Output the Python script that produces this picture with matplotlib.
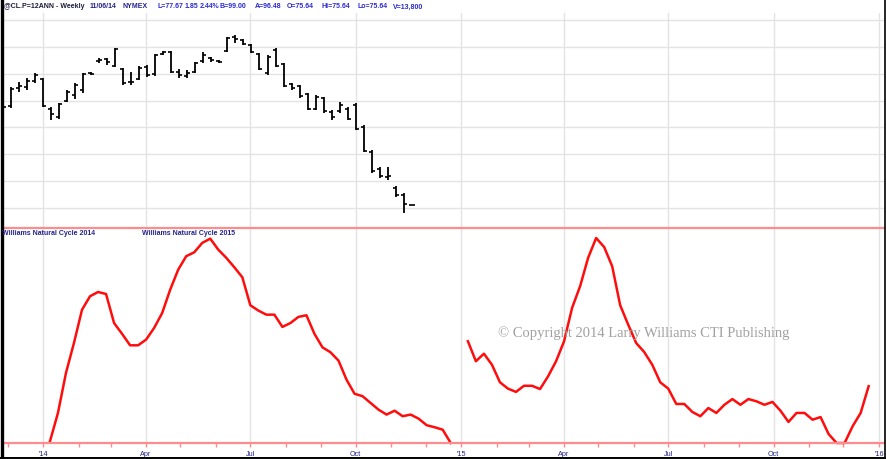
import matplotlib
matplotlib.use("Agg")
import matplotlib.pyplot as plt
import matplotlib.dates as mdates
import pandas as pd
import numpy as np

# ---------------- data ----------------
bar_start = "2013-11-27"
bar_high = [94.2, 97.5, 98.5, 99.2, 100.1, 99.2, 93.8, 94.5, 97.0, 98.3, 100.1, 100.3, 102.9,
            102.9, 104.8, 101.1, 100.3, 101.4, 101.6, 103.6, 104.2, 104.2, 100.9, 100.7, 102.2,
            104.0, 103.1, 102.5, 106.8, 107.2, 106.5, 105.5, 103.9, 103.5, 104.8, 102.0, 98.3,
            97.9, 96.4, 96.0, 95.7, 93.2, 94.7, 93.8, 94.5, 90.4, 85.8, 82.6, 82.6, 79.1, 77.8, 75.64]
bar_low = [92.3, 93.6, 96.6, 97.0, 98.3, 93.8, 91.4, 91.6, 94.7, 95.3, 96.4, 99.8, 102.0,
           101.6, 101.2, 97.9, 97.9, 98.8, 99.4, 99.5, 103.5, 100.1, 99.2, 99.2, 100.1,
           102.0, 102.2, 102.0, 104.0, 105.7, 105.3, 103.9, 100.7, 99.8, 101.2, 97.5, 97.0,
           95.5, 93.2, 93.2, 92.7, 91.4, 92.7, 91.4, 89.5, 85.4, 81.5, 80.6, 80.2, 77.0, 74.1, 75.64]
bar_open = [92.6, 93.9, 97.3, 97.6, 98.6, 99.0, 93.5, 92.0, 95.0, 96.0, 97.0, 100.1, 102.3,
            102.7, 101.5, 100.8, 98.5, 99.0, 101.2, 99.9, 103.6, 104.0, 100.3, 99.6, 100.3,
            102.3, 102.9, 102.3, 104.2, 106.8, 106.2, 105.3, 103.7, 100.2, 104.5, 101.8, 98.1,
            97.7, 96.2, 93.5, 95.4, 92.8, 93.0, 93.5, 94.2, 90.1, 85.5, 82.3, 80.8, 78.8, 77.4, 75.64]
bar_close = [93.8, 97.2, 97.8, 98.6, 99.8, 94.0, 92.5, 94.3, 96.6, 97.9, 100.0, 100.0, 102.6,
             102.1, 104.6, 98.3, 98.4, 101.0, 99.8, 103.4, 104.0, 100.4, 99.8, 100.2, 101.9,
             103.5, 102.5, 102.1, 106.6, 106.4, 105.6, 104.1, 100.9, 103.2, 101.4, 97.7, 97.3,
             95.8, 93.5, 95.7, 93.0, 91.9, 94.2, 91.6, 89.8, 85.7, 81.8, 80.9, 81.0, 77.5, 75.7, 75.64]

cycle14_start = "2014-01-07"
cycle14 = [0.8, 14.7, 34.3, 49.0, 65.2, 71.8, 73.9, 72.9, 58.7, 53.4, 47.8, 47.8, 50.6, 56.3,
           63.6, 75.0, 84.8, 91.4, 93.3, 97.9, 100.0, 94.6, 90.6, 86.0, 81.1, 67.4, 64.8, 62.8,
           62.8, 56.8, 58.7, 61.7, 62.5, 53.4, 46.8, 44.4, 40.3, 31.0, 24.1, 22.9, 19.6, 16.3,
           13.9, 15.8, 13.1, 13.9, 11.9, 8.7, 7.7, 6.5, 0.0]
cycle15_start = "2015-01-07"
cycle15 = [49.8, 40.0, 43.7, 38.3, 29.7, 26.6, 25.0, 28.0, 28.0, 26.4, 32.6, 40.0, 49.8, 66.1,
           76.7, 90.6, 100.3, 95.9, 86.5, 67.4, 57.9, 48.9, 44.5, 38.3, 29.7, 26.6, 19.1, 19.1,
           15.2, 13.1, 17.1, 14.7, 18.7, 21.5, 18.7, 21.5, 20.4, 18.7, 20.1, 15.8, 10.3, 14.7,
           14.7, 11.4, 12.7, 4.4, 0.0, 0.0, 8.2, 14.7, 27.8]

tick_dates = ["2014-01-01", "2014-04-01", "2014-07-01", "2014-10-01", "2015-01-01",
              "2015-04-01", "2015-07-01", "2015-10-01", "2016-01-01"]
tick_labels = ["'14", "Apr", "Jul", "Oct", "'15", "Apr", "Jul", "Oct", "'16"]
price_grid = [75, 80, 85, 90, 95, 100, 105, 110]

title_tokens = ["@CL.P=12ANN - Weekly", "11/06/14", "NYMEX", "L=77.67", "1.85", "2.44%",
                "B=99.00", "A=96.48", "O=75.64", "Hi=75.64", "Lo=75.64", "V=13,800"]
title_px = [4, 90, 123, 157, 185, 200, 220, 255, 287, 322, 357, 393]
legend_labels = ["Williams Natural Cycle 2014", "Williams Natural Cycle 2015"]

# ---------------- figure ----------------
W, H = 886, 459
fig = plt.figure(figsize=(W / 100, H / 100), dpi=100)
fig.patch.set_facecolor("white")

def fx(px):
    return px / W

def fy(py):
    return 1 - py / H

left, right = 3, 884
ax1 = fig.add_axes([fx(left), fy(228), fx(right - left), (228 - 13) / H])
ax2 = fig.add_axes([fx(left), fy(443), fx(right - left), (443 - 228) / H])
ax2.patch.set_alpha(0)

bar_dates = pd.date_range(bar_start, periods=len(bar_high), freq="7D")
d14 = pd.date_range(cycle14_start, periods=len(cycle14), freq="7D")
d15 = pd.date_range(cycle15_start, periods=len(cycle15), freq="7D")
tdates = pd.to_datetime(tick_dates)

xmin = pd.Timestamp("2013-11-27")
xmax = xmin + pd.Timedelta(days=769.4)

grid_c = "#e3e3e3"
pink = "#ff8c8c"
navy = "#23238e"

# top panel
for t in tdates:
    ax1.axvline(t, color=grid_c, lw=1.0, zorder=0)
for p in price_grid:
    ax1.axhline(p, color=grid_c, lw=1.0, zorder=0)
ax1.vlines(bar_dates, bar_low, bar_high, color="black", lw=1.3, zorder=3)
ax1.plot(bar_dates, bar_open, ls="none", marker=0, ms=2.4, mew=1.2, color="black", zorder=3)
ax1.plot(bar_dates, bar_close, ls="none", marker=1, ms=2.4, mew=1.2, color="black", zorder=3)
ax1.set_xlim(xmin, xmax)
ax1.set_ylim(71.28, 111.30)
ax1.set_xticks([]); ax1.set_yticks([])
for s in ["top", "left", "right", "bottom"]:
    ax1.spines[s].set_visible(False)

# bottom panel
for t in tdates:
    ax2.axvline(t, color=grid_c, lw=1.0, zorder=0)
ax2.plot(d14, cycle14, color="#ff0d0d", lw=1.8, zorder=3, clip_on=False, solid_joinstyle="round")
ax2.plot(d15, cycle15, color="#ff0d0d", lw=1.8, zorder=3, clip_on=False, solid_joinstyle="round")
ax2.set_xlim(xmin, xmax)
ax2.set_ylim(0, 105.2)
ax2.set_yticks([])
ax2.set_xticks(tdates)
ax2.set_xticklabels(tick_labels, fontsize=5.2, color=navy, family="Liberation Sans")
ax2.tick_params(axis="x", which="major", length=3, color=pink, width=1, pad=3.0)
ax2.xaxis.set_minor_locator(mdates.MonthLocator())
ax2.tick_params(axis="x", which="minor", length=3, color=pink, width=1)
for s in ["left", "right"]:
    ax2.spines[s].set_visible(False)
for s in ["top", "bottom"]:
    ax2.spines[s].set_color(pink)
    ax2.spines[s].set_linewidth(1.6)
    ax2.spines[s].set_zorder(5)

# watermark
fig.text(fx(644), fy(333), "\u00a9 Copyright 2014 Larry Williams CTI Publishing",
         ha="center", va="center", fontsize=10.5, color="#a0a0a0",
         family="Liberation Serif", zorder=1)

# legend labels
fig.text(fx(2), fy(234), legend_labels[0], ha="left", va="center", fontsize=5.0,
         color=navy, weight="bold", family="Liberation Sans")
fig.text(fx(142), fy(234), legend_labels[1], ha="left", va="center", fontsize=5.0,
         color=navy, weight="bold", family="Liberation Sans")

# header
for i, (tok, px) in enumerate(zip(title_tokens, title_px)):
    col = "#1c1c3a" if i == 0 else (navy if i < 3 else "#2a2ad0")
    fig.text(fx(px), fy(7), tok, ha="left", va="center", fontsize=5.0, color=col,
             weight="bold", family="Liberation Sans")

# frame
fig.add_artist(plt.Line2D([fx(1.5), fx(1.5)], [0, 1], color="black", lw=2.4, transform=fig.transFigure))
fig.add_artist(plt.Line2D([fx(885), fx(885)], [0, 1], color="black", lw=1.2, transform=fig.transFigure))
fig.add_artist(plt.Line2D([0, 1], [fy(457.5), fy(457.5)], color="black", lw=1.4, transform=fig.transFigure))

fig.savefig("out.png", dpi=100, facecolor="white")
